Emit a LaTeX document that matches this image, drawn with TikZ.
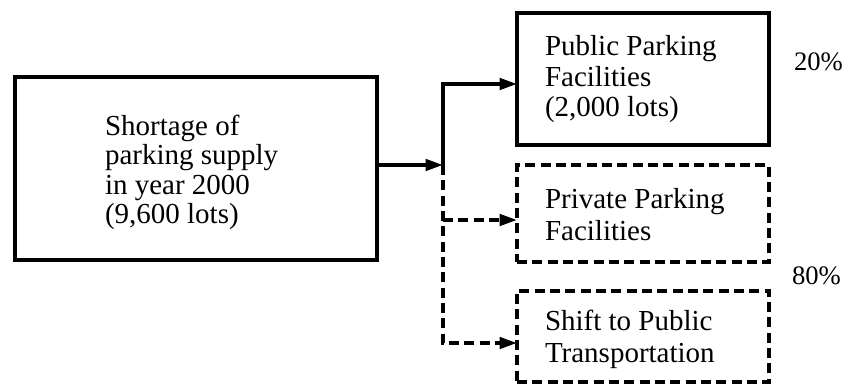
\documentclass[tikz,border=0pt]{standalone}
\usepackage{fontspec}
\setmainfont{Liberation Serif}
\usetikzlibrary{arrows.meta}
\begin{document}
\begin{tikzpicture}[x=0.75pt,y=-0.75pt,
  every node/.style={inner sep=0pt, outer sep=0pt},
  boxsolid/.style={draw, line width=2.6pt, rectangle},
  boxdash/.style={draw, line width=2.6pt, rectangle, dash pattern=on 7.5pt off 4pt},
  txt/.style={anchor=north west, align=left, font=\fontsize{21.75}{23.2}\selectfont},
  pct/.style={anchor=base west, font=\fontsize{20}{22}\selectfont},
  conn/.style={line width=2.6pt, line join=miter},
  conndash/.style={line width=2.6pt, dash pattern=on 7.5pt off 4pt},
  tip/.style={-{Triangle[length=13pt,width=8.5pt]}}
]
\useasboundingbox[fill=white] (0,0) rectangle (846,384);

% boxes
\node[boxsolid, minimum width=362*0.75pt, minimum height=183*0.75pt] (src) at (196,168.5) {};
\node[boxsolid, minimum width=252*0.75pt, minimum height=132*0.75pt] (pub) at (643,79) {};
\node[boxdash, minimum width=252*0.75pt, minimum height=97*0.75pt] (priv) at (643,213.5) {};
\node[boxdash, minimum width=252*0.75pt, minimum height=91*0.75pt] (shift) at (643,336.5) {};

% texts
\node[txt, font=\fontsize{21.75}{22.1}\selectfont] (tsrc) at (105,115) {Shortage of\\parking supply\\in year 2000\\(9,600 lots)};
\node[txt] (tpub) at (545,35) {Public Parking\\Facilities\\(2,000 lots)};
\node[txt, font=\fontsize{21.75}{24}\selectfont] (tpriv) at (545,188) {Private Parking\\Facilities};
\node[txt, font=\fontsize{21.75}{24}\selectfont] (tshift) at (545,310) {Shift to Public\\Transportation};

\node[pct] (p20) at (794,71) {20\%};
\node[pct] (p80) at (792,285) {80\%};

% connectors
\coordinate (j) at (443,165);
\coordinate (cup) at (443,84);
\coordinate (cpriv) at (443,220);
\coordinate (cshift) at (443,343);

\draw[conn, tip] (src.east |- j) -- (j);
\draw[conn, tip] (j) -- (cup) -- (pub.west |- cup);
\draw[conndash, tip] (j) -- (cshift) -- (shift.west |- cshift);
\draw[conndash, tip] (cpriv) -- (priv.west |- cpriv);
\end{tikzpicture}
\end{document}
